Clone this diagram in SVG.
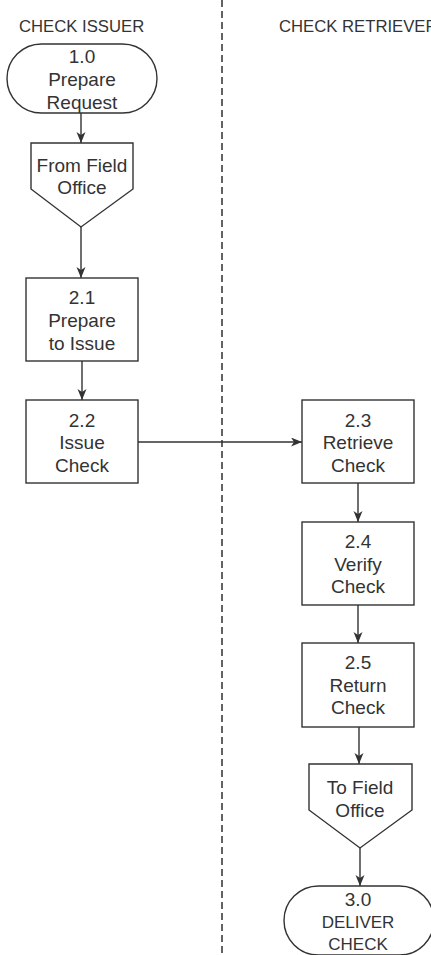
<svg xmlns="http://www.w3.org/2000/svg" width="431" height="955" viewBox="0 0 431 955">
<style>
.s{fill:#fff;stroke:#333;stroke-width:1.4}
.t{font-family:"Liberation Sans",Arial,sans-serif;font-size:19px;fill:#333;text-anchor:middle}
.u{font-family:"Liberation Sans",Arial,sans-serif;font-size:17px;fill:#333;text-anchor:middle}
.h{font-family:"Liberation Sans",Arial,sans-serif;font-size:16.7px;fill:#333}
.c{stroke:#333;stroke-width:1.4;fill:none}
</style>
<defs>
<marker id="a" markerWidth="12" markerHeight="10" refX="11" refY="4.5" orient="auto" markerUnits="userSpaceOnUse">
<path d="M0,0 L11,4.5 L0,9 L3,4.5 z" fill="#333"/>
</marker>
</defs>
<line x1="222" y1="0" x2="222" y2="955" stroke="#222" stroke-width="1.4" stroke-dasharray="7,4"/>
<text class="h" x="19" y="32">CHECK ISSUER</text>
<text class="h" x="279" y="32">CHECK RETRIEVER</text>
<g id="connectors">
<line class="c" x1="81" y1="113" x2="81" y2="143" marker-end="url(#a)"/>
<line class="c" x1="81" y1="227" x2="81" y2="278" marker-end="url(#a)"/>
<line class="c" x1="82" y1="361" x2="82" y2="400" marker-end="url(#a)"/>
<line class="c" x1="138" y1="442" x2="302" y2="442" marker-end="url(#a)"/>
<line class="c" x1="358" y1="483" x2="358" y2="522" marker-end="url(#a)"/>
<line class="c" x1="358" y1="605" x2="358" y2="643" marker-end="url(#a)"/>
<line class="c" x1="359" y1="727" x2="359" y2="764" marker-end="url(#a)"/>
<line class="c" x1="360" y1="848" x2="360" y2="886" marker-end="url(#a)"/>
</g>
<g id="n1">
<rect class="s" x="7" y="44" width="150" height="69" rx="34.5" ry="34.5"/>
<text class="t" x="82" y="63">1.0</text>
<text class="t" x="82" y="86">Prepare</text>
<text class="t" x="82" y="109">Request</text>
</g>
<g id="from">
<path class="s" d="M31,143 H133 V189 L81,227 L31,189 Z"/>
<text class="t" x="82" y="172">From Field</text>
<text class="t" x="82" y="194">Office</text>
</g>
<g id="n21">
<rect class="s" x="26" y="278" width="112" height="83"/>
<text class="t" x="82" y="304">2.1</text>
<text class="t" x="82" y="327">Prepare</text>
<text class="t" x="82" y="350">to Issue</text>
</g>
<g id="n22">
<rect class="s" x="26" y="400" width="112" height="83"/>
<text class="t" x="82" y="427">2.2</text>
<text class="t" x="82" y="449">Issue</text>
<text class="t" x="82" y="472">Check</text>
</g>
<g id="n23">
<rect class="s" x="302" y="400" width="112" height="83"/>
<text class="t" x="358" y="427">2.3</text>
<text class="t" x="358" y="449">Retrieve</text>
<text class="t" x="358" y="472">Check</text>
</g>
<g id="n24">
<rect class="s" x="302" y="522" width="112" height="83"/>
<text class="t" x="358" y="548">2.4</text>
<text class="t" x="358" y="571">Verify</text>
<text class="t" x="358" y="593">Check</text>
</g>
<g id="n25">
<rect class="s" x="302" y="643" width="112" height="84"/>
<text class="t" x="358" y="669">2.5</text>
<text class="t" x="358" y="692">Return</text>
<text class="t" x="358" y="714">Check</text>
</g>
<g id="to">
<path class="s" d="M309,764 H412 V810 L360,848 L309,810 Z"/>
<text class="t" x="360" y="794">To Field</text>
<text class="t" x="360" y="817">Office</text>
</g>
<g id="n30">
<rect class="s" x="284" y="886" width="150" height="69" rx="34.5" ry="34.5"/>
<text class="t" x="358" y="906">3.0</text>
<text class="u" x="358" y="928">DELIVER</text>
<text class="u" x="358" y="950">CHECK</text>
</g>
</svg>
